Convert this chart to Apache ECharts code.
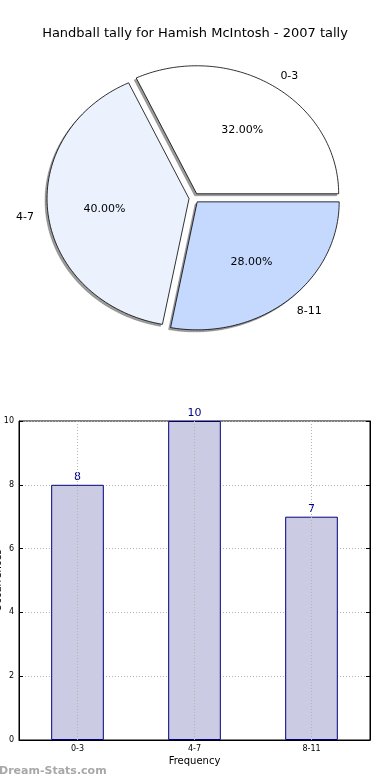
<!DOCTYPE html>
<html>
<head>
<meta charset="utf-8">
<script src="https://cdn.jsdelivr.net/npm/echarts@6/dist/echarts.min.js"></script>
<style>
html,body{margin:0;padding:0;background:#fff;}
#c{width:390px;height:780px;}
</style>
</head>
<body>
<div id="c"></div>
<script>
var titleText = 'Handball tally for Hamish McIntosh - 2007 tally';
var categories = ['0-3', '4-7', '8-11'];
var counts = [8, 10, 7];
var pieColors = ['#ffffff', '#ebf2fe', '#c5d8fd'];
var yTicks = [0, 2, 4, 6, 8, 10];
var xAxisName = 'Frequency';
var yAxisName = 'Occurrences';
var watermark = 'Dream-Stats.com';

var FONT = 'DejaVu Sans';
var chart = echarts.init(document.getElementById('c'), null, {renderer: 'canvas'});

var total = counts.reduce(function (a, b) { return a + b; }, 0);
var PIE = {cx: 194, cy: 198, rx: 142, ry: 128, explode: 5};

function renderSlice(params, api) {
  var i = params.dataIndex;
  var v = api.value(1);
  var before = 0;
  for (var k = 0; k < i; k++) before += counts[k];
  var a0 = before / total * 2 * Math.PI;
  var a1 = (before + v) / total * 2 * Math.PI;
  var am = (a0 + a1) / 2;
  var ox = PIE.cx + PIE.explode * Math.cos(am);
  var oy = PIE.cy - PIE.explode * Math.sin(am);
  var pts = [[ox, oy]];
  var n = 80;
  for (var s = 0; s <= n; s++) {
    var a = a0 + (a1 - a0) * s / n;
    pts.push([ox + PIE.rx * Math.cos(a), oy - PIE.ry * Math.sin(a)]);
  }
  var lx = ox + 1.1 * PIE.rx * Math.cos(am);
  var ly = oy - 1.1 * PIE.ry * Math.sin(am);
  var px = ox + 0.6 * PIE.rx * Math.cos(am);
  var py = oy - 0.6 * PIE.ry * Math.sin(am);
  var pct = (v / total * 100).toFixed(2) + '%';
  return {
    type: 'group',
    children: [
      {
        type: 'polygon',
        shape: {points: pts},
        x: -2, y: 2,
        style: {fill: 'rgba(90,90,90,0.6)', stroke: 'rgba(90,90,90,0.35)', lineWidth: 1},
        z2: 0
      },
      {
        type: 'polygon',
        shape: {points: pts},
        style: {fill: pieColors[i], stroke: '#000', lineWidth: 0.8},
        z2: 5
      },
      {
        type: 'text',
        style: {
          x: lx, y: ly + 1, text: categories[i], fill: '#000',
          font: '11px "' + FONT + '"',
          align: Math.cos(am) >= 0 ? 'left' : 'right', verticalAlign: 'middle'
        },
        z2: 10
      },
      {
        type: 'text',
        style: {
          x: px, y: py + 1, text: pct, fill: '#000',
          font: '11px "' + FONT + '"',
          align: 'center', verticalAlign: 'middle'
        },
        z2: 10
      }
    ]
  };
}

var option = {
  animation: false,
  backgroundColor: '#fff',
  textStyle: {fontFamily: FONT},
  title: {
    text: titleText,
    left: 'center',
    top: 22,
    textStyle: {fontFamily: FONT, fontSize: 13, fontWeight: 'normal', color: '#000'}
  },
  graphic: [{
    type: 'text',
    left: -1,
    top: 766,
    style: {text: watermark, fill: '#a8a8a8', font: 'bold 11px "' + FONT + '"'}
  }],
  grid: {
    left: 19, right: 20, top: 421, bottom: 40,
    containLabel: false,
    outerBoundsMode: 'none',
    show: true, borderColor: '#000', borderWidth: 1
  },
  xAxis: {
    type: 'category',
    data: categories,
    name: xAxisName,
    nameLocation: 'middle',
    nameGap: 16,
    nameMoveOverlap: false,
    nameTextStyle: {fontFamily: FONT, fontSize: 10, color: '#000'},
    axisLine: {lineStyle: {color: '#000', width: 1}},
    axisTick: {show: true, inside: true, alignWithLabel: true, length: 4, lineStyle: {color: '#000'}},
    axisLabel: {fontFamily: FONT, fontSize: 8, color: '#000', margin: 5},
    splitLine: {show: false}
  },
  yAxis: [{
    type: 'value',
    min: 0, max: 10, interval: 2,
    name: yAxisName,
    nameLocation: 'middle',
    nameGap: 16,
    nameMoveOverlap: false,
    nameTextStyle: {fontFamily: FONT, fontSize: 10, color: '#000'},
    axisLine: {show: true, lineStyle: {color: '#000'}},
    axisTick: {show: true, inside: true, length: 4, lineStyle: {color: '#000'}},
    axisLabel: {fontFamily: FONT, fontSize: 8, color: '#000', margin: 5,
      formatter: function (v) { return yTicks.indexOf(v) >= 0 ? String(v) : ''; }},
    splitLine: {show: true, lineStyle: {color: '#b4b4b4', type: [1, 2], width: 1}}
  }, {
    type: 'value',
    position: 'right',
    min: 0, max: 10, interval: 2,
    axisLine: {show: true, lineStyle: {color: '#000'}},
    axisTick: {show: true, inside: true, length: 4, lineStyle: {color: '#000'}},
    axisLabel: {show: false},
    splitLine: {show: false}
  }],
  series: [
    {
      type: 'custom',
      coordinateSystem: 'none',
      renderItem: renderSlice,
      data: categories.map(function (c, i) { return [i, counts[i]]; }),
      silent: true
    },
    {
      type: 'bar',
      data: counts,
      barWidth: '45%',
      itemStyle: {color: '#cbcce4', borderColor: '#000080', borderWidth: 1},
      label: {
        show: true, position: 'top', distance: 2,
        color: '#00008b', fontFamily: FONT, fontSize: 11
      },
      markLine: {
        silent: true,
        symbol: 'none',
        label: {show: false},
        lineStyle: {color: '#b4b4b4', type: [1, 2], width: 1},
        data: categories.map(function (c) { return {xAxis: c}; })
      },
      z: 2
    }
  ]
};
chart.setOption(option);
</script>
</body>
</html>
